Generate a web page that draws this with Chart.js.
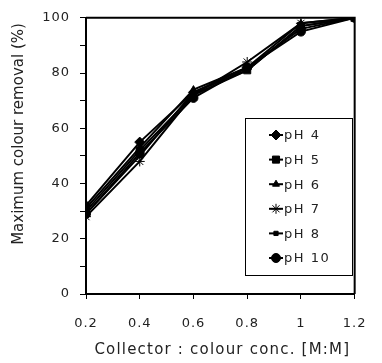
<!DOCTYPE html>
<html>
<head>
<meta charset="UTF-8">
<title>Maximum colour removal</title>
<script src="https://cdn.jsdelivr.net/npm/chart.js@4.4.1/dist/chart.umd.min.js"></script>
<style>
  html, body { margin: 0; padding: 0; background: #fff; }
  #wrap { width: 382px; height: 363px; }
</style>
</head>
<body>
<div id="wrap"><canvas id="myChart" width="382" height="363"></canvas></div>
<script>
// data
var ratios = [0.2, 0.4, 0.6, 0.8, 1.0, 1.2];
var xTickLabels = ['0.2', '0.4', '0.6', '0.8', '1', '1.2'];
var seriesNames = ['pH 4', 'pH 5', 'pH 6', 'pH 7', 'pH 8', 'pH 10'];
var ph4 = [32, 55, 73, 82, 96, 100];
var ph5 = [30, 52, 72, 81, 97, 100];
var ph6 = [31, 53, 74, 82, 98, 100];
var ph7 = [28, 48, 72, 84, 98, 100];
var ph8 = [29, 50, 73, 81, 97, 100];
var ph10 = [29, 51, 71, 82, 95, 100];

var allSeries = [ph4, ph5, ph6, ph7, ph8, ph10];
var markers = ['rectRot', 'rect', 'triangle', 'star', 'rect', 'circle'];
var markerSize = [5, 5, 4, 5, 3, 4.5];

var font = { family: 'DejaVu Sans', size: 13 };

function toPoints(vals) {
  var pts = [];
  for (var i = 0; i < vals.length; i++) {
    pts.push({ x: ratios[i], y: vals[i] });
  }
  return pts;
}

var datasets = [];
for (var i = 0; i < allSeries.length; i++) {
  datasets.push({
    label: seriesNames[i],
    data: toPoints(allSeries[i]),
    borderColor: '#000',
    backgroundColor: '#000',
    borderWidth: 2,
    pointStyle: markers[i],
    pointRadius: markerSize[i],
    pointBorderWidth: 1,
    tension: 0
  });
}

// frame, axis titles and the boxed legend inside the plot
var extras = {
  id: 'extras',
  beforeDraw: function(chart) {
    chart.ctx.letterSpacing = '1px';
  },
  afterDraw: function(chart) {
    var ctx = chart.ctx;
    var a = chart.chartArea;
    ctx.save();
    ctx.letterSpacing = '0px';
    ctx.strokeStyle = '#000';
    ctx.lineWidth = 2;
    ctx.beginPath();
    ctx.moveTo(a.left, a.top);
    ctx.lineTo(a.right, a.top);
    ctx.lineTo(a.right, a.bottom);
    ctx.stroke();

    ctx.fillStyle = '#222';
    ctx.font = '15px "DejaVu Sans"';
    ctx.textAlign = 'center';
    ctx.textBaseline = 'middle';
    ctx.save();
    ctx.translate(19, 134);
    ctx.rotate(-Math.PI / 2);
    ctx.fillText('Maximum colour removal (%)', 0, 0);
    ctx.restore();
    ctx.letterSpacing = '1.2px';
    ctx.fillText('Collector : colour conc. [M:M]', (a.left + a.right) / 2 + 2, 350);

    // legend box
    ctx.letterSpacing = '0px';
    ctx.lineWidth = 1;
    ctx.fillStyle = '#fff';
    ctx.fillRect(245.5, 118.5, 107, 157);
    ctx.strokeRect(245.5, 118.5, 107, 157);
    ctx.font = '13px "DejaVu Sans"';
    ctx.textAlign = 'left';
    var ds = chart.data.datasets;
    for (var k = 0; k < ds.length; k++) {
      var y = 135 + k * 24.6;
      ctx.strokeStyle = '#000';
      ctx.lineWidth = 2;
      ctx.beginPath();
      ctx.moveTo(269, y);
      ctx.lineTo(283, y);
      ctx.stroke();
      ctx.fillStyle = '#000';
      ctx.lineWidth = 1;
      Chart.helpers.drawPoint(ctx, {
        pointStyle: ds[k].pointStyle,
        radius: ds[k].pointRadius,
        rotation: 0,
        borderWidth: 1
      }, 276, y);
      ctx.fillStyle = '#222';
      ctx.letterSpacing = '1.5px';
      ctx.fillText(ds[k].label, 284, y + 1);
      ctx.letterSpacing = '0px';
    }
    ctx.restore();
    ctx.letterSpacing = '0px';
  }
};

var ctx = document.getElementById('myChart').getContext('2d');
var myChart = new Chart(ctx, {
  type: 'line',
  data: { datasets: datasets },
  options: {
    responsive: false,
    animation: false,
    layout: { padding: { top: 12, right: 14, left: 0, bottom: 0 } },
    plugins: {
      legend: { display: false },
      tooltip: { enabled: false }
    },
    scales: {
      x: {
        type: 'linear',
        min: 0.2,
        max: 1.2,
        afterBuildTicks: function(scale) {
          scale.ticks = ratios.map(function(v) { return { value: v }; });
        },
        afterFit: function(scale) { scale.height = 69; },
        border: { display: true, color: '#000', width: 2 },
        grid: { drawOnChartArea: false, drawTicks: true, tickLength: 5, color: '#000', lineWidth: 1 },
        ticks: {
          color: '#222',
          font: font,
          padding: 17,
          maxRotation: 0,
          callback: function(v, idx) { return xTickLabels[idx]; }
        }
      },
      y: {
        min: 0,
        max: 100,
        afterFit: function(scale) { scale.width = 86; },
        border: { display: true, color: '#000', width: 2 },
        grid: { drawOnChartArea: false, drawTicks: true, tickLength: 6, color: '#000', lineWidth: 1 },
        ticks: {
          stepSize: 10,
          color: '#222',
          font: font,
          padding: 10,
          callback: function(v) { return v % 20 === 0 ? String(v) : ''; }
        }
      }
    }
  },
  plugins: [extras]
});
</script>
</body>
</html>
